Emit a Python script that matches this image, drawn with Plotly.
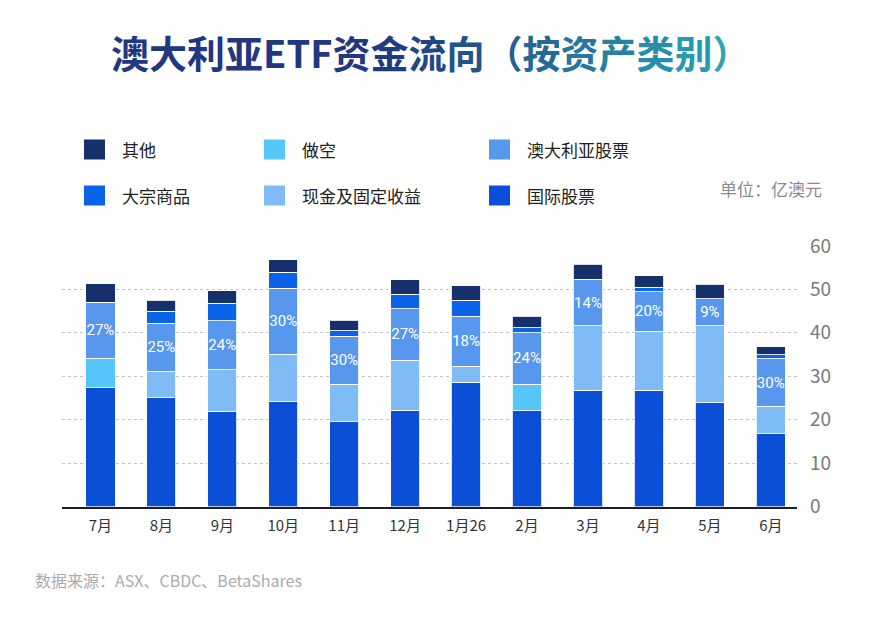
import plotly.graph_objects as go

W, H = 874, 620

# ---------------- data ----------------
months = ["7月", "8月", "9月", "10月", "11月", "12月", "1月26", "2月", "3月", "4月", "5月", "6月"]
intl_equity = [27.4, 25.0, 21.9, 24.3, 19.5, 22.2, 28.6, 22.0, 26.8, 26.8, 23.9, 16.7]
cash_fixed = [None, 6.2, 9.6, 10.8, 8.7, 11.5, 3.7, None, 14.8, 13.6, 17.7, 6.4]
short = [6.8, None, None, None, None, None, None, 6.2, None, None, None, None]
aus_equity = [12.9, 11.0, 11.3, 15.2, 11.0, 11.9, 11.5, 11.8, 10.7, 9.1, 6.3, 10.9]
commodities = [None, 2.8, 4.0, 3.6, 1.3, 3.3, 3.7, 1.2, None, 1.0, None, 1.0]
other = [4.2, 2.5, 2.9, 2.9, 2.4, 3.3, 3.4, 2.6, 3.5, 2.7, 3.3, 1.8]
aus_share_labels = ["27%", "25%", "24%", "30%", "30%", "27%", "18%", "24%", "14%", "20%", "9%", "30%"]
y_ticks = [0, 10, 20, 30, 40, 50, 60]

title_text = "澳大利亚ETF资金流向（按资产类别）"
unit_text = "单位：亿澳元"
source_text = "数据来源：ASX、CBDC、BetaShares"

# ---------------- styles ----------------
C_OTHER = "#15306b"
C_COMM = "#0b63ea"
C_SHORT = "#56c5f7"
C_CASH = "#7fbbf5"
C_AUS = "#5797ee"
C_INTL = "#0a4fd6"
FONT = "Noto Sans CJK SC"

series = [
    ("国际股票", intl_equity, C_INTL),
    ("现金及固定收益", cash_fixed, C_CASH),
    ("做空", short, C_SHORT),
    ("澳大利亚股票", aus_equity, C_AUS),
    ("大宗商品", commodities, C_COMM),
    ("其他", other, C_OTHER),
]

fig = go.Figure()
for name, vals, col in series:
    kw = {}
    if name == "澳大利亚股票":
        kw = dict(text=aus_share_labels, textposition="inside", insidetextanchor="middle",
                  textangle=0, constraintext="none",
                  textfont=dict(color="white", size=15, family="Roboto"))
    fig.add_trace(go.Bar(x=months, y=vals, name=name,
                         marker=dict(color=col, line=dict(color="rgba(255,255,255,0.85)", width=1)),
                         showlegend=False, **kw))


def px(x):
    return x / W


def py(y):
    return 1 - y / H


shapes = []
annotations = []

# legend (drawn manually)
legend_items = [
    ("其他", C_OTHER, 84, 149.5), ("做空", C_SHORT, 264, 149.5), ("澳大利亚股票", C_AUS, 489, 149.5),
    ("大宗商品", C_COMM, 84, 195.5), ("现金及固定收益", C_CASH, 264, 195.5), ("国际股票", C_INTL, 489, 195.5),
]
for name, col, x0, yc in legend_items:
    shapes.append(dict(type="rect", xref="paper", yref="paper", x0=px(x0), x1=px(x0 + 21),
                       y0=py(yc - 10), y1=py(yc + 10), fillcolor=col, line=dict(width=0)))
    annotations.append(dict(text=name, xref="paper", yref="paper", x=px(x0 + 36), y=py(yc),
                            xanchor="left", yanchor="middle", showarrow=False,
                            font=dict(family=FONT, size=17, color="#222222")))


# gradient title
def lerp(c1, c2, t):
    a = [int(c1[i:i + 2], 16) for i in (1, 3, 5)]
    b = [int(c2[i:i + 2], 16) for i in (1, 3, 5)]
    return "#%02x%02x%02x" % tuple(round(a[k] + (b[k] - a[k]) * t) for k in range(3))


n = len(title_text)
spans = []
for i, ch in enumerate(title_text):
    t = i / (n - 1)
    tt = max(0.0, (t - 0.45) / 0.55)
    spans.append('<span style="color:%s">%s</span>' % (lerp("#21377f", "#2aa5b3", tt), ch))
annotations.append(dict(text="<b>" + "".join(spans) + "</b>", xref="paper", yref="paper",
                        x=px(431), y=py(52), xanchor="center", yanchor="middle", showarrow=False,
                        font=dict(family=FONT, size=38, color="#21377f")))

annotations.append(dict(text=unit_text, xref="paper", yref="paper", x=px(824), y=py(189),
                        xanchor="right", yanchor="middle", showarrow=False,
                        font=dict(family=FONT, size=17, color="#8a8a8a")))
annotations.append(dict(text=source_text, xref="paper", yref="paper", x=px(33), y=py(580),
                        xanchor="left", yanchor="middle", showarrow=False,
                        font=dict(family=FONT, size=16, color="#ababab")))

fig.update_layout(
    template="none",
    width=W, height=H, margin=dict(l=0, r=0, t=0, b=0, autoexpand=False),
    paper_bgcolor="white", plot_bgcolor="white",
    barmode="stack", bargap=0.52,
    shapes=shapes, annotations=annotations,
    font=dict(family=FONT),
    xaxis=dict(domain=[px(62), px(797)], range=[-0.63, 11.43], showgrid=False, automargin=False,
               showline=True, linecolor="#1e1e2a", linewidth=2, ticks="",
               tickfont=dict(family=FONT, size=15, color="#333333"), ticklabelstandoff=4,
               anchor="y"),
    yaxis=dict(domain=[py(506.5), py(246)], range=[0, 60], side="right", tickvals=y_ticks,
               automargin=False,
               showgrid=True, gridcolor="#c4c4c4", griddash="dot", gridwidth=1,
               zeroline=False, showline=False, ticks="", ticklabelstandoff=12,
               tickfont=dict(family=FONT, size=19, color="#7a7a7a")),
)

fig.write_html("out.html")
